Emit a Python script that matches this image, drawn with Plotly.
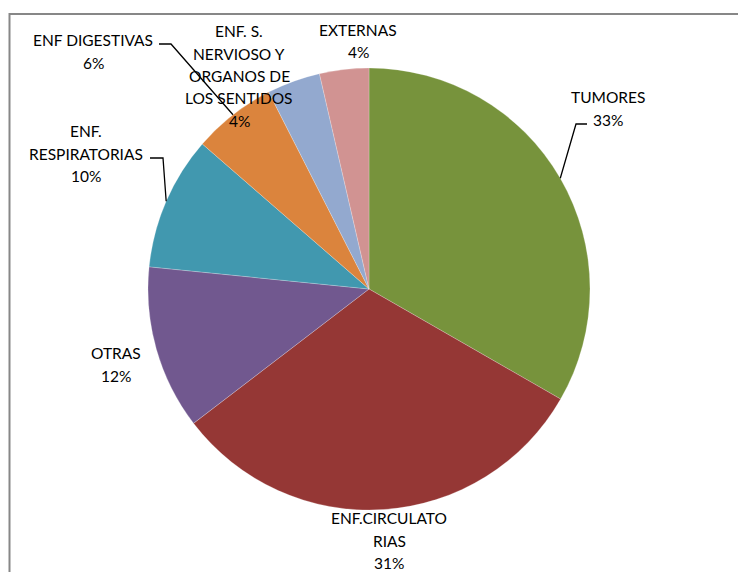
import math
import plotly.graph_objects as go

categories = ["TUMORES", "ENF.CIRCULATORIAS", "OTRAS", "ENF. RESPIRATORIAS",
              "ENF DIGESTIVAS", "ENF. S. NERVIOSO Y ORGANOS DE LOS SENTIDOS", "EXTERNAS"]
values = [33.3, 31.3, 12.0, 9.8, 6.1, 3.9, 3.6]
colors = ["#77933C", "#953735", "#71588F", "#4198AF", "#DB843D", "#93A9CF", "#D19392"]
label_lines = [
    ["TUMORES", "33%"],
    ["ENF.CIRCULATO", "RIAS", "31%"],
    ["OTRAS", "12%"],
    ["ENF.", "RESPIRATORIAS", "10%"],
    ["ENF DIGESTIVAS", "6%"],
    ["ENF. S.", "NERVIOSO Y", "ORGANOS DE", "LOS SENTIDOS", "4%"],
    ["EXTERNAS", "4%"],
]

W, H = 738, 572
CX, CY, R = 369, 289, 221
# label anchor (center x, first line y) in pixels
label_pos = [(608, 97), (389, 518), (116, 353), (86, 131), (93, 40), (239, 31), (358, 30)]
LINE_H = 22.5

fig = go.Figure(go.Pie(
    labels=categories, values=values, sort=False, direction="clockwise", rotation=0,
    marker=dict(colors=colors, line=dict(color="rgba(255,255,255,0.45)", width=0.5)),
    textinfo="none", hoverinfo="label+percent", showlegend=False,
    domain=dict(x=[(CX - R) / W, (CX + R) / W], y=[(H - CY - R) / H, (H - CY + R) / H]),
))

def px(x, y):
    return x / W, 1 - y / H

annotations = []
for (lx, ly), lines in zip(label_pos, label_lines):
    for i, t in enumerate(lines):
        x, y = px(lx, ly + i * LINE_H)
        annotations.append(dict(x=x, y=y, xref="paper", yref="paper", text=t, showarrow=False,
                                xanchor="center", yanchor="middle",
                                font=dict(family="Lato", size=15.5, color="#000000")))

# leader lines: from slice edge midpoint (computed from values) to label elbow
total = sum(values)
def edge_mid(idx):
    cum = sum(values[:idx]) + values[idx] / 2
    a = 2 * math.pi * cum / total
    return CX + R * math.sin(a), CY - R * math.cos(a)

shapes = []
leaders = {0: [(576, 124), (587, 124)], 3: [(163, 158), (150, 158)], 4: [(171, 44), (159, 44)]}
for idx, pts in leaders.items():
    ex, ey = edge_mid(idx)
    allp = [(ex, ey)] + pts
    path = "M " + " L ".join("%f,%f" % px(x, y) for x, y in allp)
    shapes.append(dict(type="path", xref="paper", yref="paper", path=path,
                       line=dict(color="#000000", width=1.3)))

# chart border
shapes.append(dict(type="rect", xref="paper", yref="paper", x0=9.5 / W, x1=1.05,
                   y0=-0.05, y1=1 - 14 / H, line=dict(color="#878787", width=2),
                   fillcolor="rgba(0,0,0,0)", layer="below"))

fig.update_layout(width=W, height=H, margin=dict(l=0, r=0, t=0, b=0),
                  paper_bgcolor="white", plot_bgcolor="white",
                  annotations=annotations, shapes=shapes)
fig.write_html("out.html", config={"displayModeBar": False},
               post_script="document.body.style.margin='0';document.body.style.overflow='hidden';")
